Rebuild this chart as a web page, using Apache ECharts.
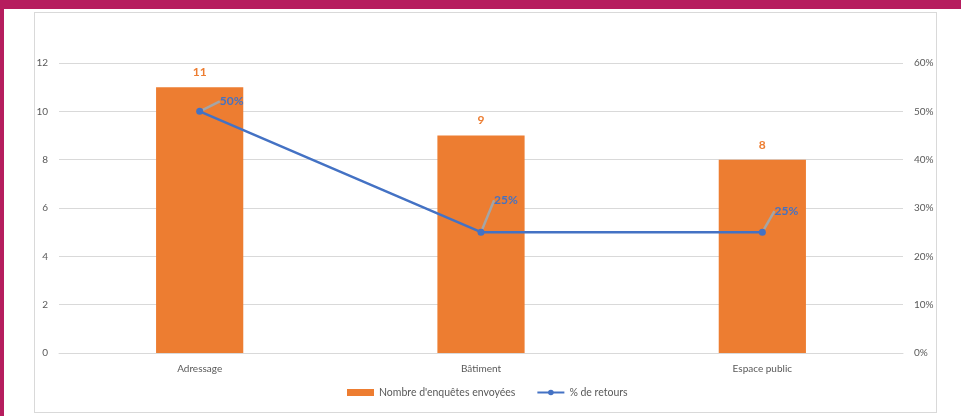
<!DOCTYPE html>
<html>
<head>
<meta charset="utf-8">
<script src="https://cdn.jsdelivr.net/npm/echarts@6/dist/echarts.min.js"></script>
<style>
  html, body { margin: 0; padding: 0; width: 961px; height: 416px; overflow: hidden; background: #fff; }
  #topband { position: absolute; left: 0; top: 0; width: 961px; height: 9px; background: #B61D5E; }
  #leftband { position: absolute; left: 0; top: 0; width: 4px; height: 416px; background: #B61D5E; }
  #frame { position: absolute; left: 34px; top: 12px; width: 901px; height: 399px; border: 1px solid #D9D9D9; background: #fff; }
  #chart { position: absolute; left: 0; top: 0; width: 961px; height: 416px; }
</style>
</head>
<body>
<div id="topband"></div>
<div id="leftband"></div>
<div id="frame"></div>
<div id="chart"></div>
<script>
const categories = ['Adressage', 'Bâtiment', 'Espace public'];
const surveysSent = [11, 9, 8];
const returnRate = [0.50, 0.25, 0.25];
const seriesNames = ["Nombre d'enquêtes envoyées", '% de retours'];
const labelShift = [[32, -10], [25, -32], [24, -21]];

const chart = echarts.init(document.getElementById('chart'), null, { renderer: 'canvas' });
const font = 'Lato, "Open Sans", sans-serif';
chart.setOption({
  animation: false,
  textStyle: { fontFamily: font },
  grid: { left: 59, right: 58, top: 63, bottom: 63, containLabel: false },
  legend: {
    left: 347, top: 387, padding: 0,
    itemWidth: 27, itemHeight: 7, itemGap: 21,
    textStyle: { color: '#595959', fontSize: 10.5, fontFamily: font },
    data: [
      { name: seriesNames[0], icon: 'rect' },
      { name: seriesNames[1] }
    ]
  },
  xAxis: {
    type: 'category',
    data: categories,
    axisLine: { show: true, lineStyle: { color: '#D9D9D9', width: 1 } },
    axisTick: { show: false },
    axisLabel: { color: '#595959', fontSize: 10, margin: 11, fontFamily: font }
  },
  yAxis: [
    {
      type: 'value', min: 0, max: 12, interval: 2,
      axisLine: { show: false }, axisTick: { show: false },
      axisLabel: { color: '#595959', fontSize: 10, margin: 11, fontFamily: font },
      splitLine: { lineStyle: { color: '#D9D9D9', width: 1 } }
    },
    {
      type: 'value', min: 0, max: 0.6, interval: 0.1,
      axisLine: { show: false }, axisTick: { show: false },
      axisLabel: {
        color: '#595959', fontSize: 10, margin: 11, fontFamily: font,
        formatter: v => Math.round(v * 100) + '%'
      },
      splitLine: { show: false }
    }
  ],
  series: [
    {
      name: seriesNames[0],
      type: 'bar',
      data: surveysSent,
      barWidth: '31%',
      itemStyle: { color: '#ED7D31' },
      label: {
        show: true, position: 'top', distance: 9,
        color: '#ED7D31', fontWeight: 'bold', fontSize: 12, fontFamily: font
      }
    },
    {
      name: seriesNames[1],
      type: 'line',
      yAxisIndex: 1,
      data: returnRate,
      symbol: 'circle', symbolSize: 7,
      lineStyle: { color: '#4472C4', width: 2.5 },
      itemStyle: { color: '#4472C4' },
      label: {
        show: true, position: 'inside',
        color: '#4472C4', fontWeight: 'bold', fontSize: 12, fontFamily: font,
        formatter: p => Math.round(p.value * 100) + '%'
      },
      labelLine: { show: true, lineStyle: { color: '#A5A5A5', width: 2.5 } },
      labelLayout: p => ({ dx: labelShift[p.dataIndex][0], dy: labelShift[p.dataIndex][1] }),
      z: 5
    }
  ]
});
</script>
</body>
</html>
